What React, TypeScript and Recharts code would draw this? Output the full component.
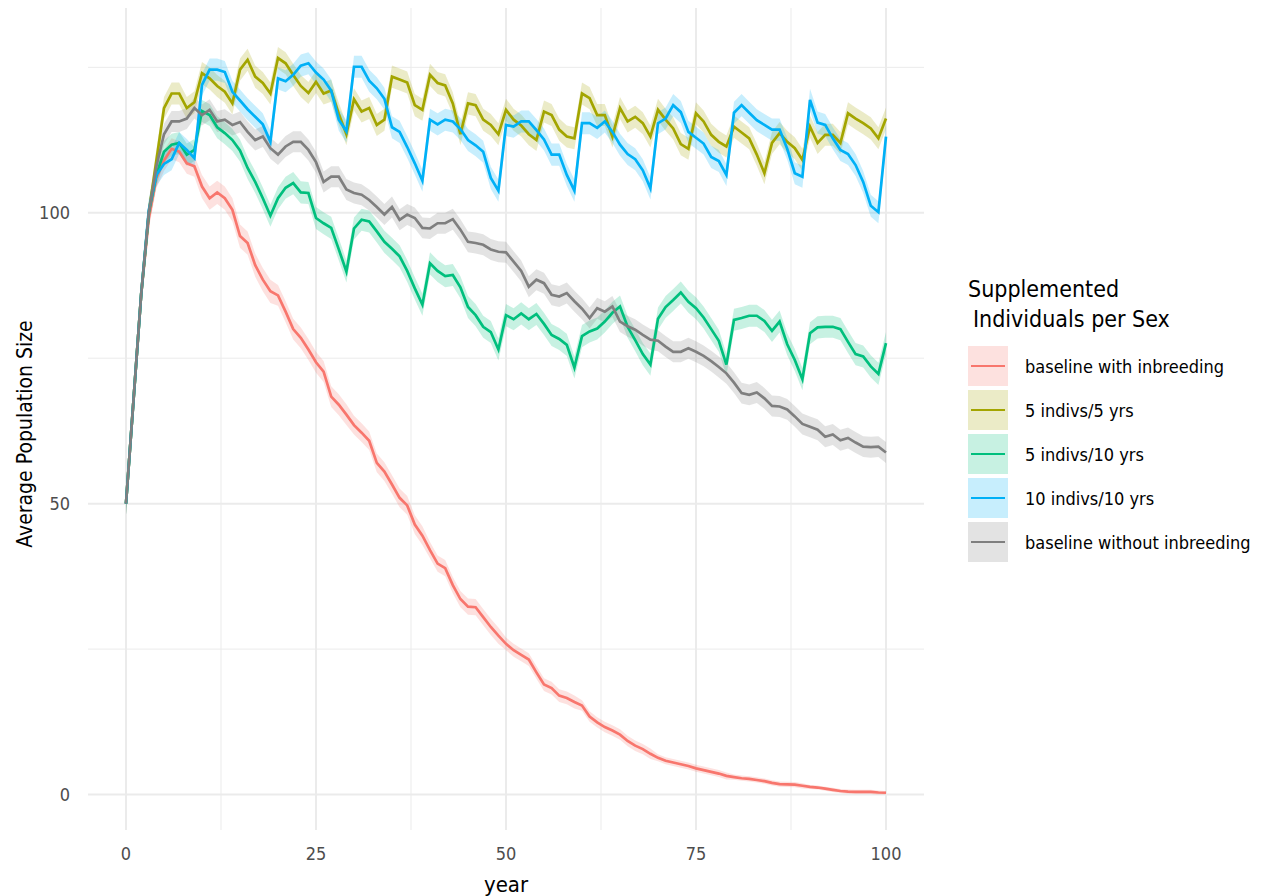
// Population size under different supplementation schemes, with shaded bands
import React from 'react';
import { ComposedChart, Area, Line, XAxis, YAxis, CartesianGrid } from 'recharts';

const FONT = "'Liberation Sans Narrow', 'DejaVu Sans Condensed', 'Roboto Condensed', sans-serif";

const years = Array.from({ length: 101 }, (_, i) => i);

const withInbreeding = [
  50, 68, 86, 99, 106, 109, 111, 110.5, 108.5, 108,
  104.5, 102.5, 103.5, 102.5, 100.5, 96, 94.8, 91, 88.5, 86.5,
  85.8, 83, 80, 78.5, 76.5, 74.3, 72.7, 68.4, 67, 65.3,
  63.5, 62.2, 60.8, 57, 55.5, 53.3, 51, 49.7, 46.4, 44.5,
  42, 39.7, 38.9, 36, 33.6, 32.3, 32.2, 30.5, 28.8, 27.3,
  25.9, 24.8, 24, 23.2, 21, 18.9, 18.3, 17, 16.6, 15.9,
  15.3, 13.4, 12.4, 11.6, 11, 10.3, 9.2, 8.4, 7.8, 7,
  6.3, 5.8, 5.5, 5.2, 4.9, 4.5, 4.2, 3.9, 3.6, 3.2,
  3.0, 2.8, 2.7, 2.5, 2.3, 2.0, 1.8, 1.75, 1.7, 1.5,
  1.3, 1.2, 1.0, 0.8, 0.6, 0.5, 0.45, 0.45, 0.45, 0.35,
  0.3,
];

const fivePerFive = [
  50, 68, 86, 100, 109, 118, 120.5, 120.5, 118, 119,
  124, 123.1, 121.8, 120.8, 118.8, 124.6, 126.3, 123.4, 122.3, 120.5,
  126.6, 125.7, 123.7, 121.8, 120.6, 122.5, 120.5, 121, 117, 113.5,
  119.5, 117.4, 118, 115.1, 116, 123.4, 122.9, 122.4, 118.5, 117.7,
  123.7, 122.3, 121.9, 118.8, 113.5, 118.8, 118.5, 116, 115.1, 113.5,
  117.7, 116, 115, 113.5, 112.5, 117.4, 116.8, 114.3, 113.1, 112.8,
  120.5, 119.7, 116.8, 116.8, 113.1, 118, 115.7, 116.5, 115.4, 113.1,
  117.7, 116, 114.5, 111.8, 111, 117.1, 115.7, 113.4, 112.2, 111.4,
  114.8, 113.8, 112.8, 110, 106.8, 112, 113.7, 112.2, 111.1, 109.1,
  114.8, 112, 113.4, 113.4, 112, 117.1, 116.2, 115.4, 114.5, 112.8,
  116.2,
];

const fivePerTen = [
  50, 68, 86, 100, 106.5, 110.5, 111.7, 112, 110, 110.8,
  117.5, 116.8, 114.7, 113.7, 112.5, 110.7, 107.7, 105.3, 102.5, 99.5,
  102.5, 104.3, 105.1, 103.5, 103.4, 99.1, 98.2, 97.4, 93.7, 89.9,
  97.3, 98.8, 98.5, 96.8, 95, 93.8, 92.5, 90, 87, 84.2,
  91.3, 90, 89.1, 89.3, 87.2, 83.8, 82.4, 80.4, 79.5, 76.5,
  82.4, 81.7, 82.7, 81.7, 82.6, 80.9, 79, 78.3, 77.3, 73.4,
  78.8, 79.6, 80.1, 81.3, 82.8, 83.9, 80.4, 78.1, 75.7, 73.9,
  81.8, 83.8, 85, 86.3, 84.7, 83.6, 82, 80, 78, 73.9,
  81.6, 81.9, 82.3, 82.3, 81.4, 79.7, 81.3, 77.4, 74.7, 71.4,
  79.3, 80.3, 80.4, 80.4, 80, 77.8, 75.7, 75.3, 73.6, 72.3,
  77.6,
];

const tenPerTen = [
  50, 68, 86, 100.5, 106.5, 108.4, 109.2, 112, 110.8, 109.4,
  122, 124.6, 124.6, 124.2, 120.8, 119.3, 117.8, 116.5, 115.2, 112.2,
  123.1, 122.6, 123.7, 125.3, 125.7, 124.1, 122.9, 121, 116, 114,
  125.1, 125.1, 122.7, 121.4, 119.6, 114.7, 113.9, 111.3, 108.5, 105.5,
  116, 115.2, 116, 115.7, 114.4, 112.5, 111.6, 110.5, 106, 103.8,
  115.1, 114.8, 115.7, 115.7, 114.2, 112.6, 110, 110, 106.5, 103.8,
  115.4, 115.4, 114.6, 115.7, 113.9, 111.7, 110.1, 109.2, 107.3, 104.2,
  115.4, 116.2, 118.5, 117.3, 113.9, 112.9, 111.9, 109.6, 108.9, 106.5,
  117.2, 118.5, 117.2, 115.9, 115.1, 114.3, 114.3, 111, 106.8, 106.2,
  119.4, 115.5, 115.1, 112.8, 110.8, 110.1, 108.2, 105.3, 101.2, 100.1,
  113.1,
];

const withoutInbreeding = [
  50, 68, 86, 100, 108, 113.5, 115.7, 115.7, 116.2, 118,
  116.8, 117.7, 115.7, 116, 115.1, 115.6, 113.9, 112.5, 113.1, 111.1,
  110, 111.4, 112.2, 112.2, 110.8, 108.7, 105.3, 106.2, 106.2, 104,
  103.4, 103.1, 102.2, 101, 99.7, 101, 98.8, 99.7, 99.1, 97.4,
  97.3, 98.2, 98.2, 98.9, 97.1, 95, 94.8, 94.5, 93.7, 93.3,
  93.2, 91.6, 90, 87.3, 88.5, 87.9, 85.9, 85.6, 86.2, 84.8,
  83.5, 81.9, 83.6, 83, 83.9, 81.3, 80.5, 79.9, 79, 78.2,
  78, 77, 76.1, 76.1, 76.7, 76.1, 75.4, 74.5, 73.5, 72.4,
  70.8, 69, 68.7, 69.1, 68.1, 66.8, 66.7, 66.2, 65, 63.7,
  63.2, 62.7, 61.5, 61.9, 60.9, 61.3, 60.5, 59.8, 59.7, 59.8,
  58.8,
];

// half-width of each shaded band, one value per decade (0-9, 10-19, ..., 100)
const withInbreedingSpread = [1.8, 2.0, 1.8, 1.6, 1.4, 1.1, 0.9, 0.6, 0.45, 0.35, 0.3];
const fivePerFiveSpread = [1.9, 1.9, 1.9, 1.9, 1.9, 1.9, 1.9, 1.9, 1.9, 1.9, 1.9];
const fivePerTenSpread = [1.9, 1.9, 1.9, 1.9, 1.9, 1.9, 1.9, 1.9, 1.9, 1.9, 1.9];
const tenPerTenSpread = [1.9, 1.9, 1.9, 1.9, 1.9, 1.9, 1.9, 1.9, 1.9, 1.9, 1.9];
const withoutInbreedingSpread = [1.8, 1.8, 1.8, 1.8, 1.8, 1.8, 1.8, 1.8, 1.8, 1.8, 1.8];

const seriesNames = [
  'baseline with inbreeding',
  '5 indivs/5 yrs',
  '5 indivs/10 yrs',
  '10 indivs/10 yrs',
  'baseline without inbreeding',
];
const seriesColors = ['#F8766D', '#A3A500', '#00BF7D', '#00B0F6', '#7F7F7F'];
const seriesValues = [withInbreeding, fivePerFive, fivePerTen, tenPerTen, withoutInbreeding];
const seriesSpreads = [withInbreedingSpread, fivePerFiveSpread, fivePerTenSpread, tenPerTenSpread, withoutInbreedingSpread];

const xTicks = [0, 25, 50, 75, 100];
const xMinor = [12.5, 37.5, 62.5, 87.5];
const yTicks = [0, 50, 100];
const yMinor = [25, 75, 125];

const rows = years.map((year, i) => {
  const row: any = { year };
  seriesValues.forEach((vals, s) => {
    const sp = seriesSpreads[s][Math.floor(year / 10)];
    row['s' + s] = vals[i];
    row['b' + s] = [vals[i] - sp, vals[i] + sp];
  });
  return row;
});

const YTitle = (props: any) => {
  const vb = props.viewBox || { x: 8, y: 8, width: 80, height: 822 };
  const cx = vb.x + 17;
  const cy = vb.y + vb.height / 2 + 15;
  return (
    <text
      x={cx}
      y={cy}
      transform={`rotate(-90 ${cx} ${cy})`}
      textAnchor="middle"
      dominantBaseline="central"
      fontFamily={FONT}
      fontSize={21}
      fill="#000"
    >
      Average Population Size
    </text>
  );
};

export default function App() {
  return (
    <div style={{ position: 'absolute', left: 0, top: 0, width: 1266, height: 896, background: '#fff' }}>
      <ComposedChart
        width={1266}
        height={896}
        data={rows}
        margin={{ top: 8, right: 342, bottom: 0, left: 8 }}
      >
        <CartesianGrid
          stroke="#EBEBEB"
          strokeWidth={1}
          horizontalValues={yMinor}
          verticalValues={xMinor}
        />
        <CartesianGrid
          stroke="#EBEBEB"
          strokeWidth={2}
          horizontalValues={yTicks}
          verticalValues={xTicks}
        />
        <XAxis
          dataKey="year"
          type="number"
          domain={[-5, 105]}
          ticks={xTicks}
          height={66}
          axisLine={false}
          tickLine={false}
          tickMargin={11}
          tick={{ fontFamily: FONT, fontSize: 18, fill: '#4D4D4D' }}
          label={{ value: 'year', position: 'insideBottom', offset: 4, style: { fontFamily: FONT, fontSize: 22, fill: '#000' } }}
        />
        <YAxis
          type="number"
          domain={[-6.1, 135.2]}
          ticks={yTicks}
          width={80}
          axisLine={false}
          tickLine={false}
          tickMargin={12}
          tick={{ fontFamily: FONT, fontSize: 18, fill: '#4D4D4D' }}
          label={{ content: YTitle }}
        />
        {seriesNames.map((name, s) => (
          <Area
            key={'band' + s}
            name={name + ' band'}
            dataKey={'b' + s}
            type="linear"
            stroke="none"
            fill={seriesColors[s]}
            fillOpacity={0.22}
            activeDot={false}
            isAnimationActive={false}
          />
        ))}
        {seriesNames.map((name, s) => (
          <Line
            key={'line' + s}
            name={name}
            dataKey={'s' + s}
            type="linear"
            stroke={seriesColors[s]}
            strokeWidth={2.7}
            dot={false}
            activeDot={false}
            isAnimationActive={false}
          />
        ))}
      </ComposedChart>

      {/* legend */}
      <div style={{ position: 'absolute', left: 968, top: 274, fontFamily: FONT, color: '#000' }}>
        <div style={{ fontSize: 23, lineHeight: '30px' }}>Supplemented</div>
        <div style={{ fontSize: 23, lineHeight: '30px', paddingLeft: 5 }}>Individuals per Sex</div>
        <div style={{ marginTop: 12 }}>
          {seriesNames.map((name, s) => (
            <div key={name} style={{ display: 'flex', alignItems: 'center', height: 40, marginBottom: 4 }}>
              <div
                style={{
                  position: 'relative',
                  width: 40,
                  height: 40,
                  background: seriesColors[s] + '38',
                }}
              >
                <div
                  style={{
                    position: 'absolute',
                    left: 3,
                    right: 3,
                    top: 19,
                    height: 2.4,
                    background: seriesColors[s],
                  }}
                />
              </div>
              <div style={{ marginLeft: 17, fontSize: 18, whiteSpace: 'nowrap' }}>{name}</div>
            </div>
          ))}
        </div>
      </div>
    </div>
  );
}
